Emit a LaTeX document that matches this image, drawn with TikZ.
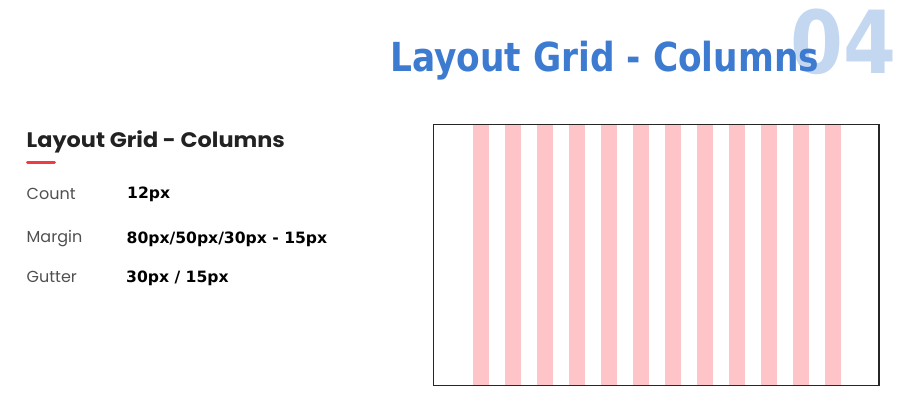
\documentclass[tikz,border=0pt]{standalone}
\usepackage{fontspec}
\setmainfont{DejaVu Sans}
\newfontfamily\labelfont{Poppins}
\usepackage{graphicx}
\usetikzlibrary{positioning}
\definecolor{titleblue}{HTML}{3D7BD0}
\definecolor{numberblue}{HTML}{C4D7F0}
\definecolor{colpink}{HTML}{FFC4C7}
\definecolor{accentred}{HTML}{EE3B44}
\definecolor{labelgray}{HTML}{505050}
\definecolor{headdark}{HTML}{222222}

\begin{document}
\begin{tikzpicture}[
x=1pt, y=-1pt,
bignum/.style={anchor=base west, inner sep=0pt, text=numberblue, font=\fontsize{87}{87}\selectfont\bfseries},
title/.style={anchor=base west, inner sep=0pt, text=titleblue, font=\fontsize{40}{40}\selectfont\bfseries},
heading/.style={anchor=base west, inner sep=0pt, text=headdark, font=\labelfont\fontsize{21}{21}\selectfont\bfseries},
prop/.style={anchor=base west, inner sep=0pt, text=labelgray, font=\labelfont\fontsize{16}{16}\selectfont},
val/.style={anchor=base west, inner sep=0pt, text=black, font=\fontsize{15.6}{15.6}\selectfont\bfseries},
column/.style={fill=colpink},
frame/.style={draw=black!85, line width=1.5pt}
]
\useasboundingbox (0,0) rectangle (908,413);

% page title
\node[bignum] (num) at (790,73) {\scalebox{0.875}[1]{04}};
\node[title] (title) at (390,71.7) {\scalebox{0.86}[1]{Layout Grid - Columns}};

% left panel
\node[heading] (head) at (26.5,147.3) {\scalebox{1.065}[1]{Layout Grid - Columns}};
\draw[accentred, line width=3pt, line cap=round] (27.5,162) -- (54.5,162);

\node[prop] (count) at (26.5,199.3) {Count};
\node[prop] (margin) at (26.5,242.7) {Margin};
\node[prop] (gutter) at (26.5,282.3) {Gutter};
\node[val] (countval) at (127,198.3) {12px};
\node[val] (marginval) at (126.5,243.3) {80px/50px/30px - 15px};
\node[val] (gutterval) at (126,282.7) {30px / 15px};

% grid preview
\foreach \i in {0,...,11}
  \fill[column] ({473+32*\i},124) rectangle ++(16,262);
\draw[frame] (433.5,124.5) rectangle (879,385.5);
\end{tikzpicture}
\end{document}
